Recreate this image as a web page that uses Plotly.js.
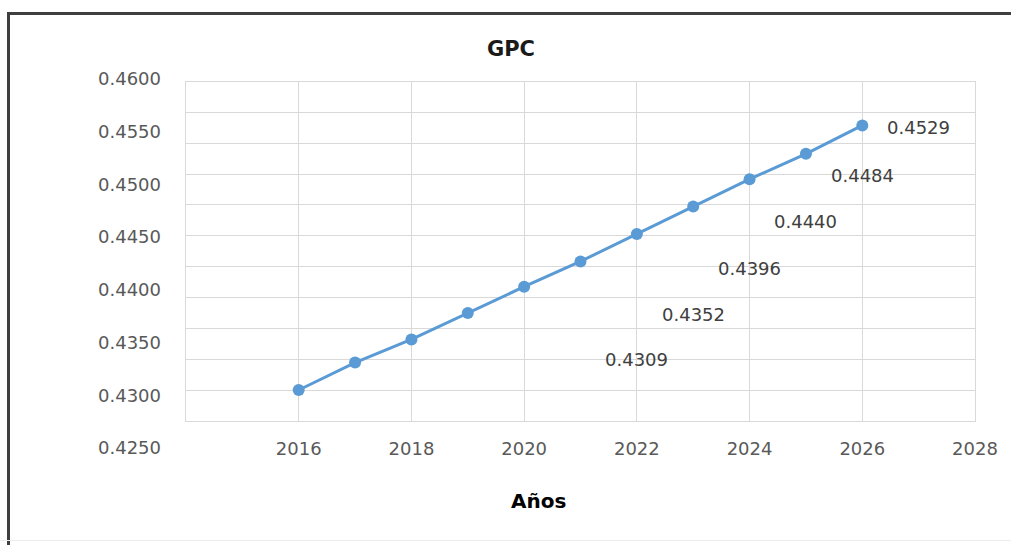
<!DOCTYPE html>
<html>
<head>
<meta charset="utf-8">
<script src="https://cdn.plot.ly/plotly-3.0.1.min.js"></script>
<style>
  html, body { margin: 0; padding: 0; background: #ffffff; }
  #wrap { position: relative; width: 1011px; height: 545px; overflow: hidden; background: #ffffff; }
  #plot { position: absolute; left: 0; top: 0; width: 1011px; height: 545px; }
  #frame { position: absolute; left: 7px; top: 12px; right: -10px; bottom: -10px;
           border-top: 3px solid #3f3f3f; border-left: 3px solid #3f3f3f; pointer-events: none; }
  #bottomline { position: absolute; left: 0; top: 540px; width: 1011px; height: 1px; background: #ececec; }
</style>
</head>
<body>
<div id="wrap">
  <div id="plot"></div>
  <div id="frame"></div>
  <div id="bottomline"></div>
</div>
<script>
// ---- data ----
const years = [2016, 2017, 2018, 2019, 2020, 2021, 2022, 2023, 2024, 2025, 2026];
const gpc = [0.4305, 0.4331, 0.4353, 0.4378, 0.4403, 0.4427, 0.4453, 0.4479, 0.4505, 0.4529, 0.4556];
const labelYears = [2022, 2023, 2024, 2025, 2026, 2027];
const labelValues = [0.4309, 0.4352, 0.4396, 0.4440, 0.4484, 0.4529];
const xTickVals = [2016, 2018, 2020, 2022, 2024, 2026, 2028];
const xTickLabels = ['2016', '2018', '2020', '2022', '2024', '2026', '2028'];
const yTickVals = [0.4250, 0.4300, 0.4350, 0.4400, 0.4450, 0.4500, 0.4550, 0.4600];
const chartTitle = 'GPC';
const xTitle = 'Años';

// ---- layout helpers ----
const FONT = 'DejaVu Sans, Verdana, sans-serif';
const BLUE = '#5b9bd5';
const GRID = '#d9d9d9';
const xRange = [2014, 2028];
const labelRange = [0.4250, 0.4600];
const mainDomain = [0.0732, 0.9932];
const span = labelRange[1] - labelRange[0];
const mainRange = [labelRange[0] + mainDomain[0] * span, labelRange[0] + mainDomain[1] * span];
const gridDtick = (mainRange[1] - mainRange[0]) / 11;

const traces = [
  {
    x: years, y: gpc, xaxis: 'x', yaxis: 'y',
    type: 'scatter', mode: 'lines+markers',
    line: { color: BLUE, width: 3 },
    marker: { color: BLUE, size: 12 },
    hoverinfo: 'skip', showlegend: false, cliponaxis: false
  },
  {
    x: years, y: gpc, xaxis: 'x2', yaxis: 'y2',
    type: 'scatter', mode: 'markers',
    marker: { opacity: 0, size: 1 },
    hoverinfo: 'skip', showlegend: false
  }
];

const annotations = labelYears.map((yr, i) => ({
  x: yr, y: labelValues[i], xref: 'x', yref: 'y',
  text: labelValues[i].toFixed(4), showarrow: false,
  xanchor: 'center', yanchor: 'middle', yshift: 26,
  font: { family: FONT, size: 18, color: '#404040' }
}));
annotations.push({
  x: 0.447, y: -0.106, xref: 'paper', yref: 'paper',
  text: '<b>' + xTitle + '</b>', showarrow: false,
  xanchor: 'center', yanchor: 'top',
  font: { family: FONT, size: 20, color: '#000000' }
});

const layout = {
  width: 1011, height: 545,
  margin: { l: 186, r: 36, t: 79, b: 97, pad: 0 },
  paper_bgcolor: 'rgba(0,0,0,0)',
  plot_bgcolor: 'rgba(0,0,0,0)',
  showlegend: false,
  title: {
    text: '<b>' + chartTitle + '</b>',
    font: { family: FONT, size: 21, color: '#1a1a1a' },
    x: 511 / 1011, xref: 'container', xanchor: 'center',
    y: 1 - 49 / 545, yref: 'container', yanchor: 'middle'
  },
  xaxis: {
    domain: [0, 1], range: xRange, anchor: 'y',
    tickmode: 'array', tickvals: xTickVals, ticktext: xTickLabels,
    showgrid: true, gridcolor: GRID, gridwidth: 1,
    showline: true, mirror: true, linecolor: GRID, linewidth: 1,
    zeroline: false, ticks: '', ticklabelstandoff: 11,
    tickfont: { family: FONT, size: 18, color: '#595959' }
  },
  yaxis: {
    domain: mainDomain, range: mainRange, anchor: 'x',
    tickmode: 'linear', tick0: mainRange[0], dtick: gridDtick,
    showticklabels: false, ticks: '',
    showgrid: true, gridcolor: GRID, gridwidth: 1,
    showline: true, mirror: true, linecolor: GRID, linewidth: 1,
    zeroline: false
  },
  xaxis2: {
    domain: [0, 1], range: xRange, anchor: 'y2', visible: false
  },
  yaxis2: {
    domain: [0, 1], range: labelRange, anchor: 'x2', side: 'left',
    tickmode: 'array', tickvals: yTickVals,
    ticktext: yTickVals.map(v => v.toFixed(4)),
    showgrid: false, showline: false, zeroline: false,
    ticks: '', ticklabelstandoff: 24,
    tickfont: { family: FONT, size: 18, color: '#595959' }
  },
  annotations: annotations
};

Plotly.newPlot('plot', traces, layout, { staticPlot: true, displayModeBar: false });
</script>
</body>
</html>
